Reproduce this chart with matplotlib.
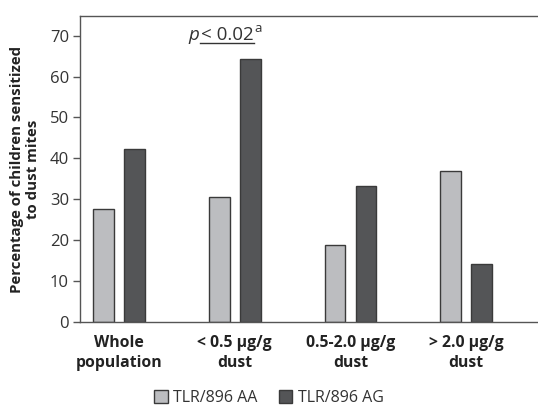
import numpy as np
from matplotlib import pyplot as plt

plt.rcParams['font.family'] = ['Open Sans', 'DejaVu Sans']

categories = ['Whole\npopulation', '< 0.5 µg/g\ndust', '0.5-2.0 µg/g\ndust', '> 2.0 µg/g\ndust']
aa_values = [27.7, 30.6, 18.9, 36.8]
ag_values = [42.3, 64.4, 33.3, 14.3]
series_names = ['TLR/896 AA', 'TLR/896 AG']
y_ticks = [0, 10, 20, 30, 40, 50, 60, 70]

fig = plt.figure(figsize=(5.38, 4.11), dpi=100)
ax = fig.add_axes([0.1487, 0.2165, 0.8513, 0.7445])

x = np.arange(len(categories))
w = 0.18
off = 0.134
edge = '#3a3a3a'
ax.bar(x - off, aa_values, w, color='#bcbdc0', edgecolor=edge, linewidth=1, label=series_names[0])
ax.bar(x + off, ag_values, w, color='#545557', edgecolor=edge, linewidth=1, label=series_names[1])

ax.set_xlim(-0.337, 3.62)
ax.set_ylim(0, 74.8)
ax.set_yticks(y_ticks)
ax.set_yticklabels([str(t) for t in y_ticks], fontsize=12, color='#333333')
ax.set_xticks(x)
ax.set_xticklabels(categories, fontsize=11.3, fontweight='bold', color='#222222', linespacing=1.38)
ax.tick_params(axis='x', length=0, pad=9)
ax.tick_params(axis='y', length=5, width=1, color='#555555', pad=3)
ax.spines['right'].set_visible(False)
for s in ['left', 'bottom', 'top']:
    ax.spines[s].set_color('#555555')
    ax.spines[s].set_linewidth(1)

ax.set_ylabel('Percentage of children sensitized\nto dust mites', fontsize=10.8,
              fontweight='bold', color='#222222', linespacing=1.2, labelpad=7)

# significance annotation
ax.text(0.69, 68.9, 'p', fontsize=13.5, style='italic', ha='right', va='baseline', color='#333333')
t = ax.text(0.71, 68.9, '< 0.02', fontsize=13.5, ha='left', va='baseline', color='#333333')
fig.canvas.draw()
bb = t.get_window_extent().transformed(ax.transData.inverted())
ax.text(bb.x1 + 0.005, 70.8, 'a', fontsize=9.5, ha='left', va='baseline', color='#333333')
ax.plot([0.70, bb.x1], [68.3, 68.3], color='#333333', linewidth=1, clip_on=False)

fig.legend(loc='lower center', bbox_to_anchor=(0.5, -0.022), ncol=2, frameon=False,
           fontsize=11.5, handlelength=0.85, handleheight=0.85, handletextpad=0.35,
           columnspacing=1.3, labelcolor='#333333')

fig.savefig('out.png', dpi=100)
